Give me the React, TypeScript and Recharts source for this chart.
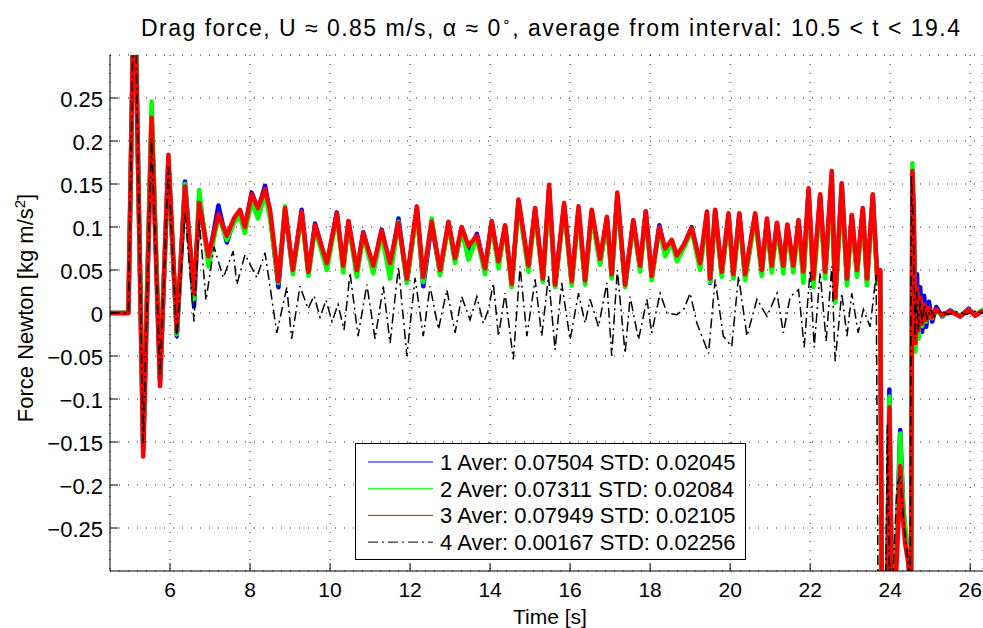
import { LineChart, Line, XAxis, YAxis, CartesianGrid } from "recharts";

// channels 1-3 share a time base (s)
const timeA = [
  4.5, 4.96, 5.09, 5.13, 5.33, 5.54, 5.75, 5.96, 6.17, 6.375,
  6.6, 6.73, 6.96, 7.21, 7.42, 7.6, 7.75, 7.87, 8.04, 8.2,
  8.375, 8.5, 8.71, 8.875, 9.07, 9.29, 9.46, 9.625, 9.92, 10.17,
  10.33, 10.46, 10.67, 10.83, 11.08, 11.29, 11.5, 11.71, 11.92, 12.17,
  12.33, 12.54, 12.75, 12.96, 13.125, 13.29, 13.46, 13.67, 13.875, 14.04,
  14.21, 14.375, 14.54, 14.71, 14.96, 15.125, 15.32, 15.475, 15.625, 15.85,
  16.04, 16.21, 16.375, 16.54, 16.75, 16.92, 17.04, 17.18, 17.375, 17.58,
  17.75, 17.89, 18.04, 18.23, 18.375, 18.54, 18.67, 18.85, 19.04, 19.25,
  19.42, 19.5, 19.625, 19.79, 19.96, 20.08, 20.23, 20.375, 20.625, 20.79,
  20.92, 21.04, 21.17, 21.33, 21.43, 21.58, 21.71, 21.83, 21.96, 22.08,
  22.25, 22.375, 22.54, 22.625, 22.79, 22.92, 23.04, 23.17, 23.315, 23.42,
  23.565, 23.68, 23.75, 23.8, 23.92, 23.98, 24.05, 24.12, 24.2, 24.25,
  24.32, 24.38, 24.45, 24.52, 24.555, 24.59, 24.63, 24.67, 24.71, 24.75,
  24.8, 24.85, 24.9, 24.97, 25.05, 25.15, 25.3, 25.5, 25.75, 25.96,
  26.125, 26.29, 26.35,
];

const blue = [
  0, 0, 0.36, 0.36, -0.158, 0.232, -0.08, 0.178, -0.027, 0.153,
  0.008, 0.135, 0.06, 0.125, 0.082, 0.108, 0.118, 0.098, 0.14, 0.12,
  0.148, 0.115, 0.03, 0.12, 0.048, 0.12, 0.045, 0.104, 0.055, 0.117,
  0.052, 0.106, 0.046, 0.094, 0.05, 0.097, 0.052, 0.11, 0.036, 0.121,
  0.031, 0.104, 0.046, 0.105, 0.06, 0.099, 0.066, 0.092, 0.05, 0.106,
  0.056, 0.101, 0.032, 0.13, 0.052, 0.12, 0.038, 0.144, 0.031, 0.125,
  0.035, 0.12, 0.036, 0.118, 0.058, 0.11, 0.042, 0.136, 0.032, 0.106,
  0.052, 0.118, 0.041, 0.102, 0.07, 0.084, 0.063, 0.079, 0.1, 0.054,
  0.115, 0.035, 0.118, 0.045, 0.114, 0.042, 0.115, 0.042, 0.114, 0.047,
  0.108, 0.051, 0.104, 0.05, 0.102, 0.052, 0.107, 0.042, 0.142, 0.036,
  0.136, 0.045, 0.16, 0.015, 0.148, 0.036, 0.113, 0.046, 0.12, 0.036,
  0.136, 0.037, 0.048, -0.42, -0.36, -0.089, -0.36, -0.33, -0.21, -0.136,
  -0.22, -0.26, -0.28, -0.33, 0.16, 0.1, -0.03, 0.045, -0.028, 0.03,
  -0.022, 0.02, -0.016, 0.013, -0.01, 0.007, -0.004, 0.003, -0.004, 0.005,
  -0.003, 0.002, 0.001,
];

const green = [
  0, 0, 0.36, 0.36, -0.16, 0.246, -0.078, 0.175, -0.025, 0.15,
  0.015, 0.143, 0.054, 0.113, 0.085, 0.105, 0.112, 0.093, 0.13, 0.11,
  0.138, 0.11, 0.035, 0.124, 0.045, 0.115, 0.043, 0.098, 0.05, 0.112,
  0.047, 0.104, 0.042, 0.09, 0.046, 0.092, 0.04, 0.106, 0.035, 0.118,
  0.036, 0.11, 0.044, 0.102, 0.058, 0.097, 0.062, 0.088, 0.045, 0.104,
  0.052, 0.1, 0.03, 0.126, 0.048, 0.117, 0.036, 0.14, 0.03, 0.122,
  0.032, 0.116, 0.033, 0.113, 0.056, 0.107, 0.04, 0.132, 0.03, 0.105,
  0.048, 0.114, 0.038, 0.098, 0.066, 0.082, 0.06, 0.076, 0.096, 0.05,
  0.112, 0.036, 0.114, 0.042, 0.11, 0.04, 0.11, 0.038, 0.11, 0.043,
  0.105, 0.047, 0.1, 0.046, 0.098, 0.047, 0.104, 0.035, 0.138, 0.03,
  0.13, 0.04, 0.155, 0.012, 0.145, 0.032, 0.11, 0.042, 0.118, 0.032,
  0.132, 0.034, 0.045, -0.42, -0.36, -0.097, -0.36, -0.33, -0.22, -0.14,
  -0.22, -0.25, -0.28, -0.33, 0.174, 0.11, -0.045, 0.025, -0.03, 0.015,
  -0.015, 0.008, -0.01, 0.005, -0.006, 0.003, -0.003, 0.002, -0.003, 0.004,
  -0.002, 0.003, 0.001,
];

const red = [
  0, 0, 0.36, 0.36, -0.167, 0.227, -0.085, 0.184, -0.021, 0.147,
  0.023, 0.128, 0.066, 0.115, 0.09, 0.11, 0.12, 0.1, 0.138, 0.122,
  0.144, 0.12, 0.037, 0.122, 0.05, 0.118, 0.048, 0.102, 0.058, 0.116,
  0.055, 0.107, 0.05, 0.093, 0.055, 0.096, 0.058, 0.105, 0.04, 0.124,
  0.042, 0.106, 0.05, 0.106, 0.064, 0.1, 0.078, 0.09, 0.052, 0.107,
  0.06, 0.102, 0.034, 0.132, 0.055, 0.122, 0.04, 0.149, 0.033, 0.128,
  0.037, 0.124, 0.038, 0.12, 0.063, 0.112, 0.045, 0.14, 0.033, 0.108,
  0.055, 0.118, 0.043, 0.1, 0.075, 0.085, 0.067, 0.08, 0.099, 0.058,
  0.118, 0.04, 0.12, 0.048, 0.116, 0.045, 0.116, 0.045, 0.116, 0.05,
  0.11, 0.055, 0.105, 0.055, 0.103, 0.055, 0.108, 0.048, 0.145, 0.04,
  0.138, 0.048, 0.165, 0.018, 0.151, 0.04, 0.114, 0.05, 0.122, 0.04,
  0.138, 0.04, 0.05, -0.42, -0.36, -0.11, -0.36, -0.33, -0.25, -0.178,
  -0.24, -0.27, -0.29, -0.33, 0.165, 0.12, -0.035, 0.03, -0.02, 0.018,
  -0.012, 0.01, -0.008, 0.006, -0.005, 0.004, -0.002, 0.002, -0.004, 0.004,
  -0.003, 0.002, 0.001,
];

// channel 4 has its own time base
const timeB = [
  4.5, 4.96, 5.09, 5.13, 5.33, 5.54, 5.75, 5.96, 6.17, 6.375,
  6.6, 6.73, 6.9, 7.1, 7.33, 7.58, 7.67, 7.875, 8.17, 8.375,
  8.67, 8.92, 9.04, 9.25, 9.45, 9.6, 9.75, 9.9, 10.05, 10.2,
  10.35, 10.5, 10.7, 10.92, 11.125, 11.33, 11.5, 11.71, 11.92, 12.125,
  12.33, 12.5, 12.71, 12.92, 13.125, 13.29, 13.5, 13.67, 13.83, 13.96,
  14.08, 14.21, 14.375, 14.58, 14.75, 14.92, 15.125, 15.29, 15.46, 15.625,
  15.79, 16.0, 16.21, 16.375, 16.5, 16.71, 16.92, 17.04, 17.18, 17.375,
  17.5, 17.71, 17.92, 18.04, 18.25, 18.42, 18.67, 18.85, 19.0, 19.17,
  19.46, 19.625, 19.83, 20.04, 20.21, 20.42, 20.67, 20.92, 21.17, 21.33,
  21.5, 21.71, 21.85, 22.0, 22.1, 22.25, 22.4, 22.54, 22.625, 22.79,
  22.92, 23.04, 23.2, 23.33, 23.5, 23.65, 23.71, 23.88, 23.93, 24.0,
  24.17, 24.25, 24.35, 24.45, 24.5, 24.53, 24.58, 24.62, 24.66, 24.7,
  24.75, 24.8, 24.86, 24.93, 25.0, 25.1, 25.25, 25.45, 25.7, 25.9,
  26.1, 26.35,
];

const black = [
  0, 0, 0.36, 0.36, -0.151, 0.203, -0.074, 0.17, -0.03, 0.116,
  -0.01, 0.108, 0.015, 0.077, 0.041, 0.072, 0.033, 0.068, 0.041, 0.07,
  -0.023, 0.03, -0.03, 0.031, 0.005, 0.02, -0.005, 0.015, -0.01, 0.01,
  -0.02, 0.047, -0.027, 0.033, -0.03, 0.031, -0.035, 0.054, -0.05, 0.041,
  -0.027, 0.031, -0.019, 0.027, -0.023, 0.019, -0.008, 0.019, -0.012, 0.004,
  0.035, -0.027, 0.023, -0.054, 0.054, -0.027, 0.039, -0.027, 0.043, -0.043,
  0.035, -0.031, 0.023, -0.012, 0.016, -0.016, 0.035, -0.05, 0.05, -0.047,
  0.019, -0.031, 0.016, -0.023, 0.023, 0, -0.002, 0.005, 0.023, -0.012,
  -0.047, 0.039, -0.027, -0.039, 0.043, -0.027, 0.016, -0.004, 0.023, -0.023,
  0.019, 0.027, -0.04, 0.05, -0.04, 0.047, -0.033, 0.054, -0.056, 0.023,
  -0.027, 0.023, -0.023, 0.004, -0.016, 0.045, -0.42, -0.36, -0.13, -0.38,
  -0.2, -0.19, -0.25, -0.29, -0.33, 0.16, 0.1, -0.03, 0.025, -0.02,
  0.015, -0.012, 0.01, -0.008, 0.005, -0.004, 0.003, -0.002, 0.002, -0.002,
  0.002, 0,
];

const xTicks = [6, 8, 10, 12, 14, 16, 18, 20, 22, 24, 26];
const yTicks = [-0.25, -0.2, -0.15, -0.1, -0.05, 0, 0.05, 0.1, 0.15, 0.2, 0.25];

const legendLabels = [
  "1 Aver: 0.07504 STD: 0.02045",
  "2 Aver: 0.07311 STD: 0.02084",
  "3 Aver: 0.07949 STD: 0.02105",
  "4 Aver: 0.00167 STD: 0.02256",
];
const colors = ["#0000ff", "#00ff00", "#ff0000", "#000000"];
const dashes = [undefined, undefined, undefined, "10 4 2 4"];

const mainData = timeA.map((t, i) => ({ t, s1: blue[i], s2: green[i], s3: red[i] }));
const blackData = timeB.map((t, i) => ({ t, s4: black[i] }));

const FONT = "'Liberation Sans', Arial, Helvetica, sans-serif";

const fmtY = (v: number) => (v < 0 ? "\u2212" + String(-v) : String(v));

const XTick = (props: any) => {
  const { x, y, payload } = props;
  return (
    <g>
      <line x1={x} x2={x} y1={y} y2={y - 8} stroke="#000" />
      <text x={x} y={y + 11} dy="0.71em" textAnchor="middle" fontSize={21} fontFamily={FONT} fill="#000">
        {payload.value}
      </text>
    </g>
  );
};

const YTick = (props: any) => {
  const { x, y, payload } = props;
  return (
    <g>
      <line x1={x} x2={x + 8} y1={y} y2={y} stroke="#000" />
      <text x={x - 7} y={y} dy="0.42em" textAnchor="end" fontSize={22} fontFamily={FONT} fill="#000">
        {fmtY(payload.value)}
      </text>
    </g>
  );
};

export default function App() {
  return (
    <div style={{ position: "absolute", left: 0, top: 0, width: 983, height: 628, background: "#fff" }}>
      <LineChart width={983} height={628} margin={{ top: 55, right: 0, bottom: 0, left: 30 }}>
        <CartesianGrid stroke="#222" strokeDasharray="1 8" />
        <XAxis
          dataKey="t"
          type="number"
          domain={[4.5, 26.32]}
          allowDataOverflow
          ticks={xTicks}
          interval={0}
          height={57}
          tickLine={false}
          tickSize={0}
          tickMargin={0}
          tick={(p: any) => <XTick {...p} />}
          axisLine={{ stroke: "#000" }}
        />
        <YAxis
          type="number"
          domain={[-0.3, 0.3]}
          allowDataOverflow
          ticks={yTicks}
          interval={0}
          width={80}
          tickLine={false}
          tickSize={0}
          tickMargin={0}
          tick={(p: any) => <YTick {...p} />}
          axisLine={{ stroke: "#000" }}
        />
        <Line data={mainData} dataKey="s1" type="linear" stroke={colors[0]} strokeWidth={4.5} strokeLinejoin="round" dot={false} activeDot={false} isAnimationActive={false} />
        <Line data={mainData} dataKey="s2" type="linear" stroke={colors[1]} strokeWidth={4.5} strokeLinejoin="round" dot={false} activeDot={false} isAnimationActive={false} />
        <Line data={mainData} dataKey="s3" type="linear" stroke={colors[2]} strokeWidth={4.5} strokeLinejoin="round" dot={false} activeDot={false} isAnimationActive={false} />
        <Line data={blackData} dataKey="s4" type="linear" stroke={colors[3]} strokeWidth={1.5} strokeDasharray={dashes[3]} dot={false} activeDot={false} isAnimationActive={false} />
      </LineChart>

      <svg width={983} height={628} style={{ position: "absolute", left: 0, top: 0, pointerEvents: "none" }} fontFamily={FONT}>
        <text x={141} y={35.5} fontSize={23} fill="#000" textLength={819} lengthAdjust="spacing">
          Drag force, U ≈ 0.85 m/s, α ≈ 0
          <tspan dy={-10} fontSize={14}>∘</tspan>
          <tspan dy={10}>{", average from interval: 10.5 < t < 19.4"}</tspan>
        </text>
        <text x={550} y={624} textAnchor="middle" fontSize={21} fill="#000">Time [s]</text>
        <text x={33} y={308} transform="rotate(-90 33 308)" textAnchor="middle" fontSize={22} fill="#000">
          Force Newton [kg m/s
          <tspan dy={-8} fontSize={15}>2</tspan>
          <tspan dy={8}>]</tspan>
        </text>

        <g>
          <rect x={355.5} y={443.5} width={390} height={116} fill="#fff" stroke="#000" />
          {legendLabels.map((label, i) => {
            const cy = 462 + i * 26.7;
            return (
              <g key={label}>
                <line x1={368} x2={433} y1={cy} y2={cy} stroke={colors[i]} strokeWidth={1} strokeDasharray={dashes[i]} />
                <text x={440} y={cy + 8} fontSize={22} fill="#000">{label}</text>
              </g>
            );
          })}
        </g>
      </svg>
    </div>
  );
}
